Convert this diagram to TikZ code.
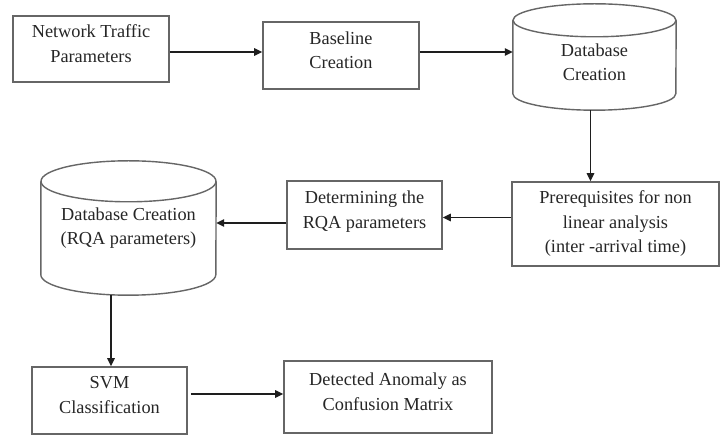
\documentclass[tikz,border=0pt]{standalone}
\usepackage{fontspec}
\setmainfont{Liberation Serif}
\usetikzlibrary{arrows.meta,calc}
\definecolor{txt}{HTML}{262626}
\definecolor{edge}{HTML}{666666}
\definecolor{arr}{HTML}{1E1E1E}
\begin{document}
\begin{tikzpicture}[x=1pt,y=-1pt,
  box/.style={draw=edge,line width=1.6pt,rectangle,inner sep=0pt,align=center,text=txt,
    font=\fontsize{18.3}{24.5}\selectfont,text depth=11pt},
  lbl/.style={inner sep=0pt,align=center,text=txt,font=\fontsize{18.3}{24.5}\selectfont},
  area/.style={rectangle,inner sep=0pt},
  cylline/.style={draw=edge,line width=1.4pt},
  conn/.style={draw=arr,line width=1.4pt,-{Triangle[length=8pt,width=7.5pt]}}]
\useasboundingbox (0,0) rectangle (723,435);
\fill[white] (0,0) rectangle (723,435);

% boxes
\node[box,minimum width=156pt,minimum height=66pt] (b1) at (91,49) {Network Traffic\\Parameters};
\node[box,minimum width=156pt,minimum height=67pt] (b2) at (341,55.5) {Baseline\\Creation};
\node[box,minimum width=207pt,minimum height=84pt,text depth=] (pre) at (615.5,224) {Prerequisites for non\\linear analysis\\(inter -arrival time)};
\node[box,minimum width=155pt,minimum height=68pt] (det) at (364.5,215) {Determining the\\RQA parameters};
\node[box,minimum width=155pt,minimum height=67pt] (svm) at (109.5,400.5) {SVM\\Classification};
\node[box,minimum width=208pt,minimum height=72pt] (anom) at (388,397) {Detected Anomaly as\\Confusion Matrix};

% cylinders
\node[area,minimum width=163pt,minimum height=106pt] (cyl1) at (594.5,57) {};
\draw[cylline] ($(cyl1.north)+(0,16.5)$) ellipse [x radius=81.5pt, y radius=16.5pt];
\draw[cylline] ([yshift=-16.5pt]cyl1.north west) -- ([yshift=16.5pt]cyl1.south west)
  arc[start angle=180,end angle=360,x radius=81.5pt,y radius=16.5pt] -- ([yshift=-16.5pt]cyl1.north east);
\node[lbl] (cyl1t) at (594.5,62) {Database\\Creation};

\node[area,minimum width=175pt,minimum height=134pt] (cyl2) at (128.5,228) {};
\draw[cylline] ($(cyl2.north)+(0,20.5)$) ellipse [x radius=87.5pt, y radius=20.5pt];
\draw[cylline] ([yshift=-20.5pt]cyl2.north west) -- ([yshift=20.5pt]cyl2.south west)
  arc[start angle=180,end angle=360,x radius=87.5pt,y radius=20.5pt] -- ([yshift=-20.5pt]cyl2.north east);
\node[lbl] (cyl2t) at (128.5,228) {Database Creation\\(RQA parameters)};

% connectors
\draw[conn] ([yshift=-3pt]b1.east) -- ([yshift=-3pt]b1.east -| b2.west);
\draw[conn] ([yshift=3.5pt]b2.east) -- ([yshift=3.5pt]b2.east -| cyl1.west);
\draw[conn] ([xshift=-4pt]cyl1.south) -- ([xshift=-4pt]cyl1.south |- pre.north);
\draw[conn] ([yshift=-2.5pt]det.east -| pre.west) -- ([yshift=-2.5pt]det.east);
\draw[conn] ([yshift=-8pt]det.west) -- ([yshift=-8pt]det.west -| cyl2.east);
\draw[conn] ([xshift=1.5pt]svm.north |- cyl2.south) -- ([xshift=1.5pt]svm.north);
\draw[conn] ([yshift=6.5pt,xshift=3pt]svm.east) -- ([yshift=6.5pt]svm.east -| anom.west);
\end{tikzpicture}
\end{document}
